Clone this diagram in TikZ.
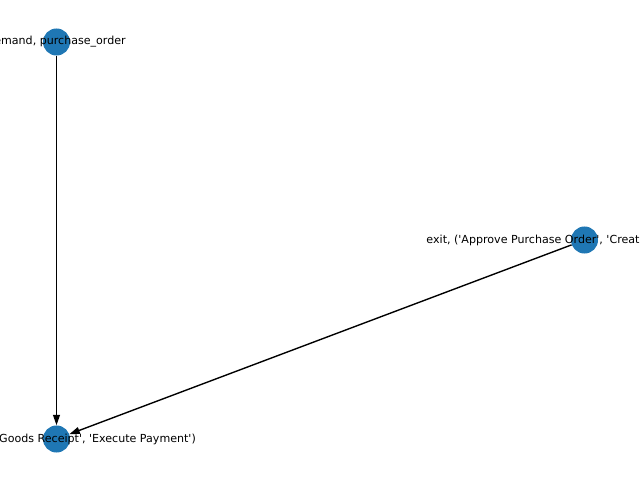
\documentclass[tikz,border=0pt]{standalone}
\usepackage{fontspec}
\setmainfont{DejaVu Sans}
\usepackage{xcolor}
\usetikzlibrary{arrows.meta}
\definecolor{nodeblue}{HTML}{1F77B4}
\newcommand{\sqt}{\textquotesingle}

\begin{document}
\begin{tikzpicture}[x=0.01in, y=-0.01in, every node/.style={font=\fontsize{8pt}{9.6pt}\selectfont},
  dot/.style={circle, fill=nodeblue, inner sep=0pt, minimum size=0.27in},
  lbl/.style={inner sep=0pt, anchor=center},
  arr/.style={-{Triangle[length=7.5pt, width=5pt]}, line width=1pt, black}]
\useasboundingbox (0,0) rectangle (640,480);
\clip (0,0) rectangle (640,480);
\node[dot] (demand) at (56.5,42) {};
\node[dot] (exit) at (584.5,240) {};
\node[dot] (start) at (56.5,439) {};
\draw[arr] (demand) -- (start);
\draw[arr] (exit) -- (start);
\node[lbl] (demandlbl) at (demand.center) {demand, purchase\_order};
\node[lbl] (exitlbl) at (exit.center) {exit, (\sqt Approve Purchase Order\sqt, \sqt Create Purchase Order\sqt)};
\node[lbl] (startlbl) at (start.center) {start, (\sqt Record Goods Receipt\sqt, \sqt Execute Payment\sqt)};
\end{tikzpicture}
\end{document}
